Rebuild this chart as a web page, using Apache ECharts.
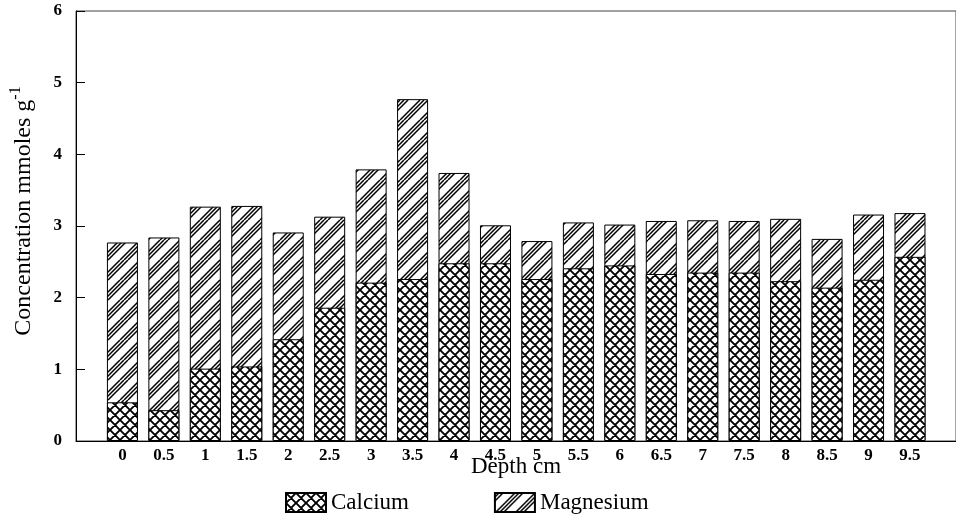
<!DOCTYPE html>
<html>
<head>
<meta charset="utf-8">
<script src="https://cdn.jsdelivr.net/npm/echarts@6/dist/echarts.min.js"></script>
<style>
html,body{margin:0;padding:0;background:#fff;}
#chart{width:956px;height:514px;}
</style>
</head>
<body>
<div id="chart"></div>
<script>
const depths = [0, 0.5, 1, 1.5, 2, 2.5, 3, 3.5, 4, 4.5, 5, 5.5, 6, 6.5, 7, 7.5, 8, 8.5, 9, 9.5];
const calcium = [0.54, 0.43, 1.01, 1.04, 1.42, 1.86, 2.21, 2.26, 2.48, 2.48, 2.26, 2.41, 2.45, 2.33, 2.35, 2.35, 2.23, 2.14, 2.25, 2.57];
const magnesium = [2.23, 2.41, 2.26, 2.24, 1.49, 1.27, 1.58, 2.51, 1.26, 0.53, 0.53, 0.64, 0.57, 0.74, 0.73, 0.72, 0.87, 0.68, 0.91, 0.61];
const yTicks = [0, 1, 2, 3, 4, 5, 6];

function crossPattern() {
  const P = 10;
  const c = document.createElement('canvas');
  c.width = P; c.height = P;
  const g = c.getContext('2d');
  g.fillStyle = '#fff'; g.fillRect(0, 0, P, P);
  g.strokeStyle = '#000'; g.lineWidth = 1.9;
  g.beginPath();
  for (const k of [-P, 0, P]) { g.moveTo(k, 0); g.lineTo(k + P, P); }
  for (const m of [0, P, 2 * P]) { g.moveTo(m, 0); g.lineTo(m - P, P); }
  g.stroke();
  return c;
}
function stripePattern() {
  const P = 20;
  const c = document.createElement('canvas');
  c.width = P; c.height = P;
  const g = c.getContext('2d');
  g.fillStyle = '#fff'; g.fillRect(0, 0, P, P);
  g.strokeStyle = '#000'; g.lineWidth = 1.5;
  g.beginPath();
  for (const off of [0, 4, 8]) {
    for (const m of [off, off + P, off + 2 * P]) { g.moveTo(m, 0); g.lineTo(m - P, P); }
  }
  g.stroke();
  return c;
}

// stacked top of each bar (calcium + magnesium), built from the two series
const stackTop = calcium.map((c, i) => +(c + magnesium[i]).toFixed(2));

const chart = echarts.init(document.getElementById('chart'));
const serif = 'Liberation Serif';
chart.setOption({
  animation: false,
  backgroundColor: '#fff',
  grid: { left: 74, right: -2, top: 11, bottom: 73, show: true, borderColor: '#444', borderWidth: 1, backgroundColor: 'transparent' },
  legend: {
    data: ['Calcium', 'Magnesium'],
    left: 280, top: 486,
    itemWidth: 40, itemHeight: 19, itemGap: 85,
    icon: 'rect',
    textStyle: { fontFamily: serif, fontSize: 23, color: '#000' }
  },
  xAxis: {
    type: 'value',
    min: -0.56, max: 10.055,
    name: 'Depth cm',
    nameLocation: 'middle',
    nameGap: 14,
    nameMoveOverlap: false,
    nameTextStyle: { fontFamily: serif, fontSize: 23, color: '#000' },
    axisLine: { lineStyle: { color: '#000', width: 1 } },
    axisTick: { show: false },
    splitLine: { show: false },
    axisLabel: {
      customValues: depths,
      margin: 6,
      fontFamily: serif, fontSize: 17, fontWeight: 'bold', color: '#000',
      formatter: v => String(v)
    }
  },
  yAxis: {
    type: 'value',
    min: 0, max: 6, interval: 1,
    name: 'Concentration mmoles g{sup|-1}',
    nameLocation: 'middle',
    nameGap: 36,
    nameMoveOverlap: false,
    nameTextStyle: {
      fontFamily: serif, fontSize: 24, color: '#000', lineHeight: 32,
      padding: [0, 0, 0, 30],
      rich: { sup: { fontFamily: serif, fontSize: 16, color: '#000', verticalAlign: 'top', lineHeight: 16 } }
    },
    axisLine: { show: true, onZero: false, lineStyle: { color: '#000', width: 1 } },
    axisTick: { show: true, inside: true, length: 9, lineStyle: { color: '#000' } },
    splitLine: { show: false },
    axisLabel: { margin: 14, fontFamily: serif, fontSize: 17, fontWeight: 'bold', color: '#000' }
  },
  series: [
    {
      name: 'Magnesium', type: 'bar', barWidth: 31, barGap: '-100%', z: 2,
      itemStyle: { color: { image: stripePattern(), repeat: 'repeat' }, borderColor: '#000', borderWidth: 1 },
      data: depths.map((d, i) => [d, stackTop[i]])
    },
    {
      name: 'Calcium', type: 'bar', barWidth: 31, barGap: '-100%', z: 3,
      itemStyle: { color: { image: crossPattern(), repeat: 'repeat' }, borderColor: '#000', borderWidth: 1 },
      data: depths.map((d, i) => [d, calcium[i]])
    }
  ]
});
</script>
</body>
</html>
